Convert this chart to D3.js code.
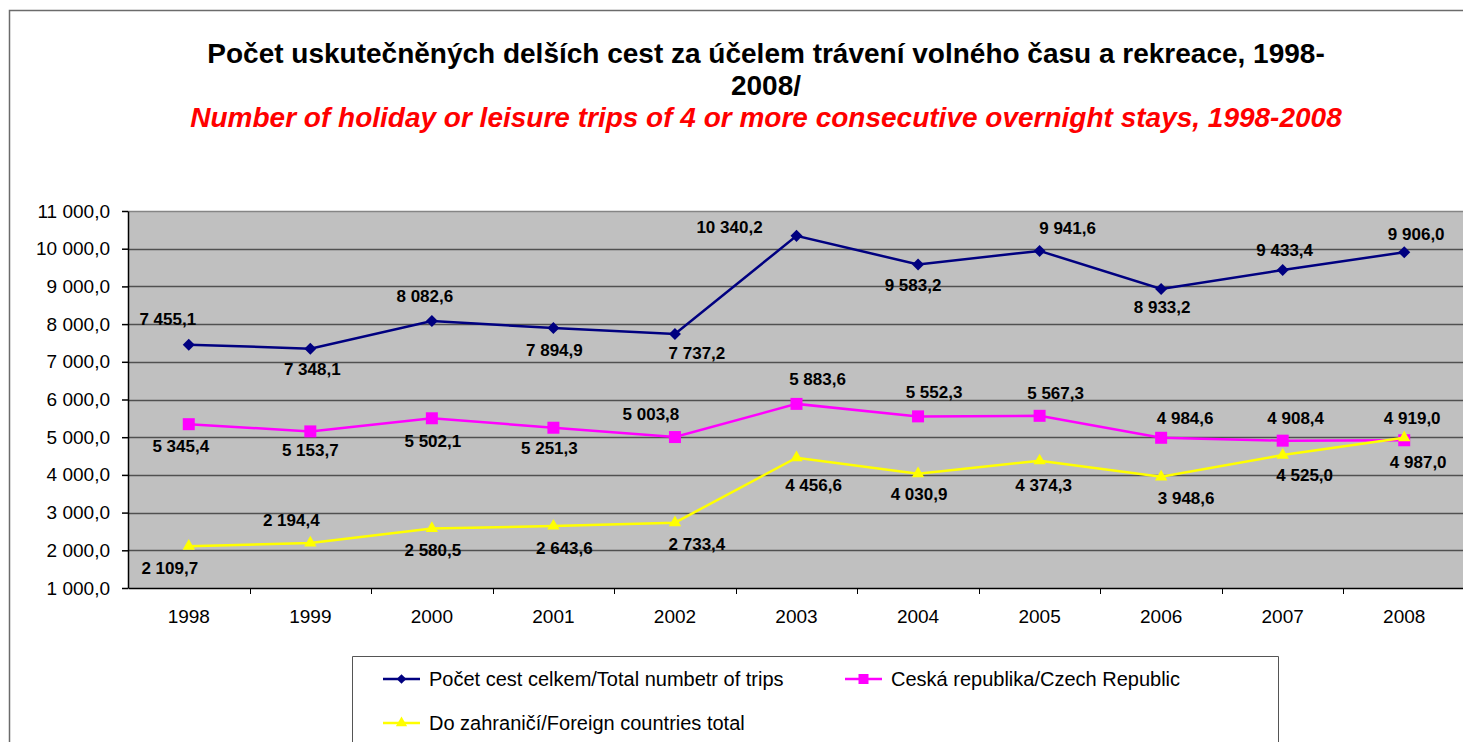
<!DOCTYPE html>
<html>
<head>
<meta charset="utf-8">
<script src="https://cdn.jsdelivr.net/npm/d3@7"></script>
<style>
  body { margin: 0; background: #fff; }
  svg { display: block; font-family: "Liberation Sans", Arial, sans-serif; }
</style>
</head>
<body>
<div id="chart"></div>
<script>
// chart data
const years = ["1998", "1999", "2000", "2001", "2002", "2003", "2004", "2005", "2006", "2007", "2008"];
const totalTrips = [7455.1, 7348.1, 8082.6, 7894.9, 7737.2, 10340.2, 9583.2, 9941.6, 8933.2, 9433.4, 9906.0];
const czechTrips = [5345.4, 5153.7, 5502.1, 5251.3, 5003.8, 5883.6, 5552.3, 5567.3, 4984.6, 4908.4, 4919.0];
const foreignTrips = [2109.7, 2194.4, 2580.5, 2643.6, 2733.4, 4456.6, 4030.9, 4374.3, 3948.6, 4525.0, 4987.0];
const yTicks = [1000, 2000, 3000, 4000, 5000, 6000, 7000, 8000, 9000, 10000, 11000];

const seriesNames = [
  "Počet cest celkem/Total numbetr of trips",
  "Ceská republika/Czech Republic",
  "Do zahraničí/Foreign countries total"
];

// where each value label sits relative to its marker (px)
const totalLabelOffsets = [[-21,-26],[2,20],[-7,-25],[1,22],[22,19],[-67,-9],[-5,20],[28,-23],[1,18],[2,-20],[12,-18]];
const czechLabelOffsets = [[-8,22],[0,18],[1,23],[-4,20],[-24,-23],[21,-25],[16,-24],[16,-23],[24,-20],[13,-23],[8,-22]];
const foreignLabelOffsets = [[-19,22],[-19,-23],[1,21],[11,22],[22,21],[17,27],[1,20],[4,24],[25,21],[22,20],[14,24]];

const width = 1463, height = 742;
const plot = {left: 128, right: 1465, top: 211, bottom: 588};

const cz = d3.formatLocale({decimal: ",", thousands: " ", grouping: [3], currency: ["", ""]});
const fmt = cz.format(",.1f");

const svg = d3.select("#chart").append("svg")
  .attr("width", width)
  .attr("height", height);

// outer chart frame
svg.append("path")
  .attr("d", `M9.5,${height} V10.5 H${width}`)
  .attr("fill", "none")
  .attr("stroke", "#6b6b6b")
  .attr("stroke-width", 1.5);

// titles
svg.append("text")
  .attr("x", 766).attr("y", 63)
  .attr("text-anchor", "middle")
  .attr("font-size", 28).attr("font-weight", "bold")
  .text("Počet uskutečněných delších cest za účelem trávení volného času a rekreace, 1998-");
svg.append("text")
  .attr("x", 766).attr("y", 95)
  .attr("text-anchor", "middle")
  .attr("font-size", 28).attr("font-weight", "bold")
  .text("2008/");
svg.append("text")
  .attr("x", 766).attr("y", 127)
  .attr("text-anchor", "middle")
  .attr("font-size", 28).attr("font-weight", "bold").attr("font-style", "italic")
  .attr("fill", "#ff0000")
  .text("Number of holiday or leisure trips of 4 or more consecutive overnight stays, 1998-2008");

// scales
const x = d3.scaleBand()
  .domain(years)
  .range([plot.left, plot.right])
  .padding(0);
const cx = d => x(d) + x.bandwidth() / 2;

const y = d3.scaleLinear()
  .domain([1000, 11000])
  .range([plot.bottom, plot.top]);

// plot background and grid
svg.append("rect")
  .attr("x", plot.left).attr("y", plot.top)
  .attr("width", plot.right - plot.left).attr("height", plot.bottom - plot.top)
  .attr("fill", "#c0c0c0");

svg.append("g")
  .selectAll("line")
  .data(yTicks.slice(1))
  .join("line")
    .attr("x1", plot.left).attr("x2", plot.right)
    .attr("y1", d => Math.round(y(d)) + 0.5).attr("y2", d => Math.round(y(d)) + 0.5)
    .attr("stroke", (d, i, n) => i === n.length - 1 ? "#858585" : "#505050")
    .attr("stroke-width", 1.5);

// axes
const yAxis = svg.append("g")
  .attr("transform", `translate(${plot.left},0)`)
  .call(d3.axisLeft(y).tickValues(yTicks).tickFormat(fmt).tickSize(6).tickSizeOuter(0).tickPadding(12));
yAxis.select(".domain").attr("stroke", "#000").attr("stroke-width", 1.5);
yAxis.selectAll(".tick line").attr("stroke", "#000").attr("stroke-width", 1.5);
yAxis.selectAll("text").attr("font-size", 19).attr("fill", "#000").attr("font-family", null);

const xAxis = svg.append("g")
  .attr("transform", `translate(0,${plot.bottom})`)
  .call(d3.axisBottom(x).tickSize(0).tickSizeOuter(0).tickPadding(22));
xAxis.select(".domain").attr("stroke", "#000").attr("stroke-width", 1.5);
xAxis.selectAll("text").attr("font-size", 19).attr("fill", "#000").attr("font-family", null);

// category boundary ticks
xAxis.append("g")
  .selectAll("line")
  .data(years.slice(1))
  .join("line")
    .attr("x1", d => Math.round(x(d)) + 0.5).attr("x2", d => Math.round(x(d)) + 0.5)
    .attr("y1", 0).attr("y2", 6)
    .attr("stroke", "#000");

// series
const series = [
  {name: seriesNames[0], values: totalTrips, offsets: totalLabelOffsets, color: "#000080",
   symbol: d3.symbolDiamond2, size: 92, legendSize: 60},
  {name: seriesNames[1], values: czechTrips, offsets: czechLabelOffsets, color: "#ff00ff",
   symbol: d3.symbolSquare, size: 144, legendSize: 100},
  {name: seriesNames[2], values: foreignTrips, offsets: foreignLabelOffsets, color: "#ffff00",
   symbol: d3.symbolTriangle, size: 66, legendSize: 55}
];

const line = d3.line()
  .x((d, i) => cx(years[i]))
  .y(d => y(d));

series.forEach(s => {
  const g = svg.append("g");

  g.append("path")
    .datum(s.values)
    .attr("d", line)
    .attr("fill", "none")
    .attr("stroke", s.color)
    .attr("stroke-width", 2.5);

  g.selectAll("path.marker")
    .data(s.values)
    .join("path")
      .attr("class", "marker")
      .attr("transform", (d, i) => `translate(${cx(years[i])},${y(d)})`)
      .attr("d", d3.symbol().type(s.symbol).size(s.size))
      .attr("fill", s.color);
});

// value labels on top of all lines
series.forEach(s => {
  svg.append("g")
    .selectAll("text")
    .data(s.values)
    .join("text")
      .attr("x", (d, i) => cx(years[i]) + s.offsets[i][0])
      .attr("y", (d, i) => y(d) + s.offsets[i][1])
      .attr("dy", "0.36em")
      .attr("text-anchor", "middle")
      .attr("font-size", 17)
      .attr("font-weight", "bold")
      .text(d => fmt(d));
});

// legend
const legend = svg.append("g");
legend.append("path")
  .attr("d", `M352.5,${height} V656.5 H1278.5 V${height}`)
  .attr("fill", "none")
  .attr("stroke", "#555")
  .attr("stroke-width", 1);

const legendPos = [[383, 679], [845, 679], [383, 723]];
series.forEach((s, i) => {
  const [lx, ly] = legendPos[i];
  const item = legend.append("g").attr("transform", `translate(${lx},${ly})`);
  item.append("line")
    .attr("x1", 0).attr("x2", 37)
    .attr("stroke", s.color).attr("stroke-width", 2.5);
  item.append("path")
    .attr("transform", "translate(18.5,0)")
    .attr("d", d3.symbol().type(s.symbol).size(s.legendSize))
    .attr("fill", s.color);
  item.append("text")
    .attr("x", 46).attr("dy", "0.36em")
    .attr("font-size", 20)
    .text(s.name);
});
</script>
</body>
</html>
